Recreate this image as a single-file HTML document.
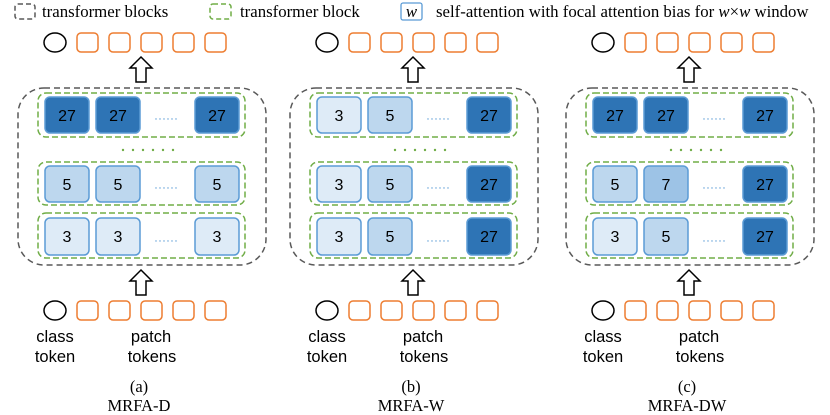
<!DOCTYPE html>
<html><head><meta charset="utf-8"><style>
html,body{margin:0;padding:0;background:#fff;}
svg{display:block;}
.sans{font-family:"Liberation Sans",sans-serif;}
.serif{font-family:"Liberation Serif",serif;}
</style></head><body>
<svg width="830" height="415" viewBox="0 0 830 415" xmlns="http://www.w3.org/2000/svg">
<defs>
<g id="tokens">
  <ellipse cx="55" cy="0" rx="11" ry="9.5" fill="none" stroke="#000" stroke-width="1.5"/>
  <rect x="77" y="-9.5" width="21" height="19" rx="4" fill="none" stroke="#ed7d31" stroke-width="1.5"/>
  <rect x="109" y="-9.5" width="21" height="19" rx="4" fill="none" stroke="#ed7d31" stroke-width="1.5"/>
  <rect x="141" y="-9.5" width="21" height="19" rx="4" fill="none" stroke="#ed7d31" stroke-width="1.5"/>
  <rect x="173" y="-9.5" width="21" height="19" rx="4" fill="none" stroke="#ed7d31" stroke-width="1.5"/>
  <rect x="205" y="-9.5" width="21" height="19" rx="4" fill="none" stroke="#ed7d31" stroke-width="1.5"/>
</g>
<polygon id="arrow" points="0,0 11,11 5,11 5,25 -5,25 -5,11 -11,11" fill="#fff" stroke="#000" stroke-width="1.5"/>
<g id="frame">
  <rect x="18" y="88" width="248" height="177" rx="26" fill="none" stroke="#595959" stroke-width="1.5" stroke-dasharray="6,4"/>
  <rect x="38" y="93" width="207" height="44" rx="8" fill="none" stroke="#70ad47" stroke-width="1.5" stroke-dasharray="6,3"/>
  <rect x="38" y="162" width="207" height="43" rx="8" fill="none" stroke="#70ad47" stroke-width="1.5" stroke-dasharray="6,3"/>
  <rect x="38" y="213" width="207" height="45" rx="8" fill="none" stroke="#70ad47" stroke-width="1.5" stroke-dasharray="6,3"/>
  <g fill="#70ad47"><circle cx="123" cy="150" r="1.2"/><circle cx="133" cy="150" r="1.2"/><circle cx="143" cy="150" r="1.2"/><circle cx="153" cy="150" r="1.2"/><circle cx="163" cy="150" r="1.2"/><circle cx="173" cy="150" r="1.2"/></g>
  <g fill="#5b9bd5"><circle cx="156" cy="119" r="0.7"/><circle cx="160" cy="119" r="0.7"/><circle cx="164" cy="119" r="0.7"/><circle cx="168" cy="119" r="0.7"/><circle cx="172" cy="119" r="0.7"/><circle cx="176" cy="119" r="0.7"/>
  <circle cx="156" cy="188" r="0.7"/><circle cx="160" cy="188" r="0.7"/><circle cx="164" cy="188" r="0.7"/><circle cx="168" cy="188" r="0.7"/><circle cx="172" cy="188" r="0.7"/><circle cx="176" cy="188" r="0.7"/>
  <circle cx="156" cy="241" r="0.7"/><circle cx="160" cy="241" r="0.7"/><circle cx="164" cy="241" r="0.7"/><circle cx="168" cy="241" r="0.7"/><circle cx="172" cy="241" r="0.7"/><circle cx="176" cy="241" r="0.7"/></g>
  <use href="#tokens" y="42.5"/>
  <use href="#tokens" y="310.5"/>
  <use href="#arrow" x="141" y="57"/>
  <use href="#arrow" x="141" y="270"/>
</g>
</defs>

<!-- legend -->
<rect x="15" y="4" width="20" height="15" rx="3" fill="none" stroke="#595959" stroke-width="1.5" stroke-dasharray="5,3"/>
<text x="42" y="17" class="serif" font-size="16.8">transformer blocks</text>
<rect x="210" y="4" width="21" height="15" rx="3" fill="none" stroke="#70ad47" stroke-width="1.5" stroke-dasharray="5,3"/>
<text x="240" y="17" class="serif" font-size="16.8">transformer block</text>
<rect x="401" y="3" width="21" height="17" rx="2" fill="none" stroke="#5b9bd5" stroke-width="1.3"/>
<text x="411.5" y="17" class="serif" font-size="16.8" font-style="italic" text-anchor="middle">w</text>
<text x="436" y="17" class="serif" font-size="16.8">self-attention with focal attention bias for <tspan font-style="italic">w</tspan>×<tspan font-style="italic">w</tspan> window</text>

<!-- panel a -->
<g>
<use href="#frame"/>
<g stroke="#5b9bd5" stroke-width="1.5">
<rect x="45" y="97" width="44" height="36" rx="5" fill="#2e74b5"/><rect x="96" y="97" width="44" height="36" rx="5" fill="#2e74b5"/><rect x="195" y="97" width="44" height="36" rx="5" fill="#2e74b5"/>
<rect x="45" y="166" width="44" height="36" rx="5" fill="#bdd7ee"/><rect x="96" y="166" width="44" height="36" rx="5" fill="#bdd7ee"/><rect x="195" y="166" width="44" height="36" rx="5" fill="#bdd7ee"/>
<rect x="45" y="218" width="44" height="37" rx="5" fill="#deebf7"/><rect x="96" y="218" width="44" height="37" rx="5" fill="#deebf7"/><rect x="195" y="218" width="44" height="37" rx="5" fill="#deebf7"/>
</g>
<g class="sans" font-size="16" text-anchor="middle">
<text x="67" y="121">27</text><text x="118" y="121">27</text><text x="217" y="121">27</text>
<text x="67" y="190">5</text><text x="118" y="190">5</text><text x="217" y="190">5</text>
<text x="67" y="242">3</text><text x="118" y="242">3</text><text x="217" y="242">3</text>
</g>
<g class="sans" font-size="16.5" text-anchor="middle">
<text x="55" y="342">class</text><text x="55" y="362">token</text>
<text x="151" y="342">patch</text><text x="152" y="362">tokens</text>
</g>
<g class="serif" font-size="16.5" text-anchor="middle"><text x="139" y="392">(a)</text><text x="139" y="411">MRFA-D</text></g>
</g>

<!-- panel b -->
<g transform="translate(272,0)">
<use href="#frame"/>
<g stroke="#5b9bd5" stroke-width="1.5">
<rect x="45" y="97" width="44" height="36" rx="5" fill="#deebf7"/><rect x="96" y="97" width="44" height="36" rx="5" fill="#bdd7ee"/><rect x="195" y="97" width="44" height="36" rx="5" fill="#2e74b5"/>
<rect x="45" y="166" width="44" height="36" rx="5" fill="#deebf7"/><rect x="96" y="166" width="44" height="36" rx="5" fill="#bdd7ee"/><rect x="195" y="166" width="44" height="36" rx="5" fill="#2e74b5"/>
<rect x="45" y="218" width="44" height="37" rx="5" fill="#deebf7"/><rect x="96" y="218" width="44" height="37" rx="5" fill="#bdd7ee"/><rect x="195" y="218" width="44" height="37" rx="5" fill="#2e74b5"/>
</g>
<g class="sans" font-size="16" text-anchor="middle">
<text x="67" y="121">3</text><text x="118" y="121">5</text><text x="217" y="121">27</text>
<text x="67" y="190">3</text><text x="118" y="190">5</text><text x="217" y="190">27</text>
<text x="67" y="242">3</text><text x="118" y="242">5</text><text x="217" y="242">27</text>
</g>
<g class="sans" font-size="16.5" text-anchor="middle">
<text x="55" y="342">class</text><text x="55" y="362">token</text>
<text x="151" y="342">patch</text><text x="152" y="362">tokens</text>
</g>
<g class="serif" font-size="16.5" text-anchor="middle"><text x="139" y="392">(b)</text><text x="139" y="411">MRFA-W</text></g>
</g>

<!-- panel c -->
<g transform="translate(548,0)">
<use href="#frame"/>
<g stroke="#5b9bd5" stroke-width="1.5">
<rect x="45" y="97" width="44" height="36" rx="5" fill="#2e74b5"/><rect x="96" y="97" width="44" height="36" rx="5" fill="#2e74b5"/><rect x="195" y="97" width="44" height="36" rx="5" fill="#2e74b5"/>
<rect x="45" y="166" width="44" height="36" rx="5" fill="#bdd7ee"/><rect x="96" y="166" width="44" height="36" rx="5" fill="#9dc3e6"/><rect x="195" y="166" width="44" height="36" rx="5" fill="#2e74b5"/>
<rect x="45" y="218" width="44" height="37" rx="5" fill="#deebf7"/><rect x="96" y="218" width="44" height="37" rx="5" fill="#bdd7ee"/><rect x="195" y="218" width="44" height="37" rx="5" fill="#2e74b5"/>
</g>
<g class="sans" font-size="16" text-anchor="middle">
<text x="67" y="121">27</text><text x="118" y="121">27</text><text x="217" y="121">27</text>
<text x="67" y="190">5</text><text x="118" y="190">7</text><text x="217" y="190">27</text>
<text x="67" y="242">3</text><text x="118" y="242">5</text><text x="217" y="242">27</text>
</g>
<g class="sans" font-size="16.5" text-anchor="middle">
<text x="55" y="342">class</text><text x="55" y="362">token</text>
<text x="151" y="342">patch</text><text x="152" y="362">tokens</text>
</g>
<g class="serif" font-size="16.5" text-anchor="middle"><text x="139" y="392">(c)</text><text x="139" y="411">MRFA-DW</text></g>
</g>
</svg>
</body></html>
